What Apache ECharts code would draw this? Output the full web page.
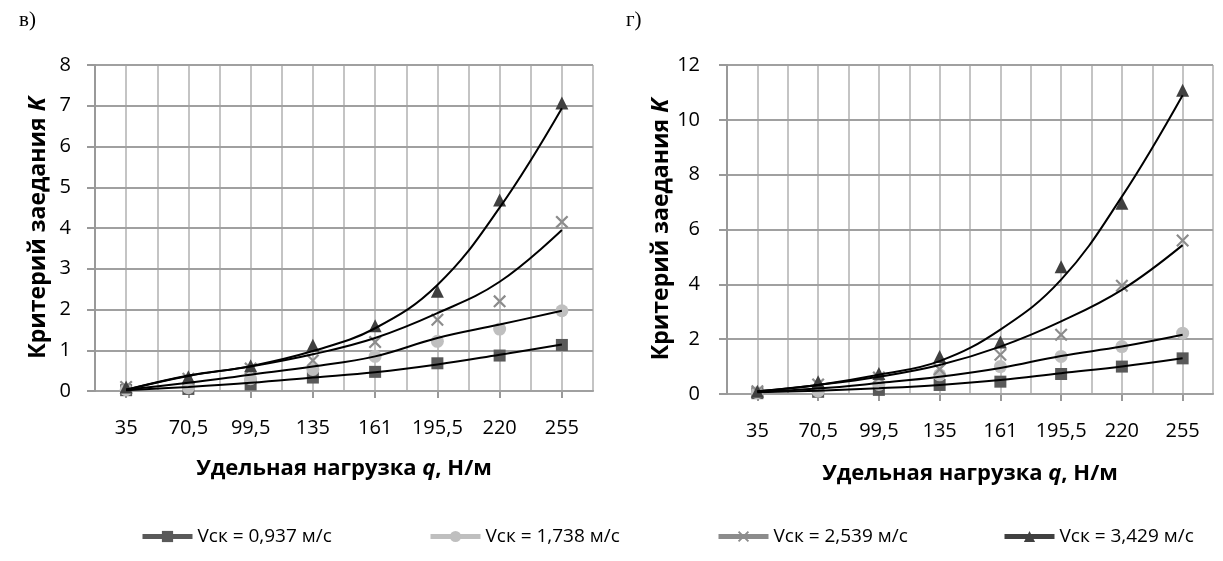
<!DOCTYPE html>
<html>
<head>
<meta charset="utf-8">
<script src="https://cdn.jsdelivr.net/npm/echarts@6/dist/echarts.min.js"></script>
<style>
html, body { margin: 0; background: #fff; }
#chart { width: 1223px; height: 561px; }
</style>
</head>
<body>
<div id="chart"></div>
<script>
// категории по оси X (удельная нагрузка q, Н/м)
var categories = ['35', '70,5', '99,5', '135', '161', '195,5', '220', '255'];
var seriesNames = ['Vск = 0,937 м/с', 'Vск = 1,738 м/с', 'Vск = 2,539 м/с', 'Vск = 3,429 м/с'];

// в) точки
var v1L = [0.02, 0.05, 0.16, 0.33, 0.47, 0.68, 0.87, 1.13];
var v2L = [0.03, 0.08, 0.3, 0.53, 0.85, 1.22, 1.52, 1.97];
var v3L = [0.1, 0.3, 0.55, 0.75, 1.2, 1.75, 2.2, 4.15];
var v4L = [0.1, 0.35, 0.62, 1.12, 1.6, 2.45, 4.69, 7.07];
// в) линии тренда
var t1L = [0.02, 0.1, 0.2, 0.33, 0.46, 0.65, 0.89, 1.14];
var t2L = [0.03, 0.2, 0.4, 0.6, 0.85, 1.3, 1.63, 1.97];
var t3L = [0.03, 0.37, 0.6, 0.9, 1.3, 1.91, 2.68, 3.95];
var t4L = [0.03, 0.38, 0.61, 0.98, 1.54, 2.6, 4.5, 6.94];

// г) точки
var v1R = [0.03, 0.08, 0.15, 0.33, 0.45, 0.73, 1.0, 1.3];
var v2R = [0.05, 0.1, 0.35, 0.7, 1.0, 1.37, 1.73, 2.22];
var v3R = [0.1, 0.35, 0.6, 0.9, 1.43, 2.16, 3.95, 5.6];
var v4R = [0.1, 0.45, 0.75, 1.37, 1.9, 4.64, 6.96, 11.08];
// г) линии тренда
var t1R = [0.06, 0.12, 0.21, 0.33, 0.51, 0.76, 1.0, 1.3];
var t2R = [0.08, 0.2, 0.4, 0.63, 0.95, 1.39, 1.73, 2.16];
var t3R = [0.1, 0.33, 0.63, 1.06, 1.73, 2.65, 3.8, 5.43];
var t4R = [0.1, 0.33, 0.7, 1.2, 2.35, 4.17, 7.2, 10.9];

var FONT = 'Open Sans';
var colors = ['#595959', '#bfbfbf', '#8c8c8c', '#404040'];
var symbols = ['rect', 'circle',
	'path://M0,1.2 L1.2,0 L5,3.8 L8.8,0 L10,1.2 L6.2,5 L10,8.8 L8.8,10 L5,6.2 L1.2,10 L0,8.8 L3.8,5 Z',
	'triangle'];
var sizes = [12, 13, 13, 13];

var chart = echarts.init(document.getElementById('chart'));

function catAxis(grid, gap) {
	return {
		type: 'category', gridIndex: grid, data: categories,
		boundaryGap: true,
		name: '{b|Удельная нагрузка }{i|q}{b|, Н/м}',
		nameLocation: 'middle', nameGap: gap,
		nameTextStyle: {
			rich: {
				b: { fontFamily: FONT, fontSize: 22, fontWeight: 'bold', color: '#000' },
				i: { fontFamily: FONT, fontSize: 22, fontWeight: 'bold', fontStyle: 'italic', color: '#000' }
			}
		},
		axisLine: { show: true, lineStyle: { color: '#999', width: 2 } },
		axisTick: { show: true, interval: 0, alignWithLabel: true, length: 7, lineStyle: { color: '#999', width: 2 } },
		axisLabel: { interval: 0, margin: 27, fontFamily: FONT, fontSize: 20, color: '#000' },
		splitLine: { show: false }
	};
}

// вспомогательная ось только для вертикальной сетки (через каждые пол-категории)
function gridAxis(grid) {
	return {
		type: 'value', gridIndex: grid, min: 0, max: 16, interval: 1,
		axisLine: { show: false }, axisTick: { show: false }, axisLabel: { show: false },
		splitLine: { show: true, lineStyle: { color: '#c4c4c4', width: 2 } }
	};
}

function valAxis(grid, max, interval, gap, margin) {
	return {
		type: 'value', gridIndex: grid, min: 0, max: max, interval: interval,
		name: '{b|Критерий заедания }{i|K}',
		nameLocation: 'middle', nameGap: gap,
		nameTextStyle: {
			rich: {
				b: { fontFamily: FONT, fontSize: 23, fontWeight: 'bold', color: '#000' },
				i: { fontFamily: FONT, fontSize: 23, fontWeight: 'bold', fontStyle: 'italic', color: '#000' }
			}
		},
		axisLine: { show: true, lineStyle: { color: '#999', width: 2 } },
		axisTick: { show: true, length: 8, lineStyle: { color: '#999', width: 2 } },
		axisLabel: { margin: margin, fontFamily: FONT, fontSize: 20, color: '#000' },
		splitLine: { show: true, lineStyle: { color: '#a0a0a0', width: 2 } },
		z: 3
	};
}

var series = [];
function addPanel(grid, points, trends) {
	points.forEach(function (d, i) {
		series.push({
			name: seriesNames[i], type: 'line',
			xAxisIndex: grid * 2, yAxisIndex: grid,
			data: d,
			symbol: symbols[i], symbolSize: sizes[i],
			itemStyle: { color: colors[i] },
			lineStyle: { color: colors[i], width: 5, opacity: 0 },
			z: 3
		});
	});
	trends.forEach(function (d, i) {
		series.push({
			name: 'trend' + grid + '_' + i, type: 'line',
			xAxisIndex: grid * 2, yAxisIndex: grid,
			data: d, smooth: 0.4, showSymbol: false,
			lineStyle: { color: '#000', width: 2 },
			z: 4, silent: true
		});
	});
}
addPanel(0, [v1L, v2L, v3L, v4L], [t1L, t2L, t3L, t4L]);
addPanel(1, [v1R, v2R, v3R, v4R], [t1R, t2R, t3R, t4R]);

var legendLeft = [140, 428, 716, 1002];
var legends = seriesNames.map(function (n, i) {
	return {
		data: [n], left: legendLeft[i], top: 527, padding: 0,
		itemWidth: 50, itemHeight: 14, itemGap: 0,
		lineStyle: { opacity: 1, width: 5 },
		textStyle: { fontFamily: FONT, fontSize: 19, color: '#000' }
	};
});

var option = {
	animation: false,
	backgroundColor: '#fff',
	graphic: [
		{ type: 'text', left: 19, top: 10, style: { text: 'в)', font: '21px "Liberation Serif"', fill: '#000' } },
		{ type: 'text', left: 626, top: 10, style: { text: 'г)', font: '21px "Liberation Serif"', fill: '#000' } }
	],
	legend: legends,
	grid: [
		{ left: 95, top: 65, width: 498, height: 326 },
		{ left: 727, top: 65, width: 486, height: 329 }
	],
	xAxis: [catAxis(0, 67), gridAxis(0), catAxis(1, 69), gridAxis(1)],
	yAxis: [valAxis(0, 8, 1, 45, 24), valAxis(1, 12, 2, 48, 27)],
	series: series
};
chart.setOption(option);
</script>
</body>
</html>
